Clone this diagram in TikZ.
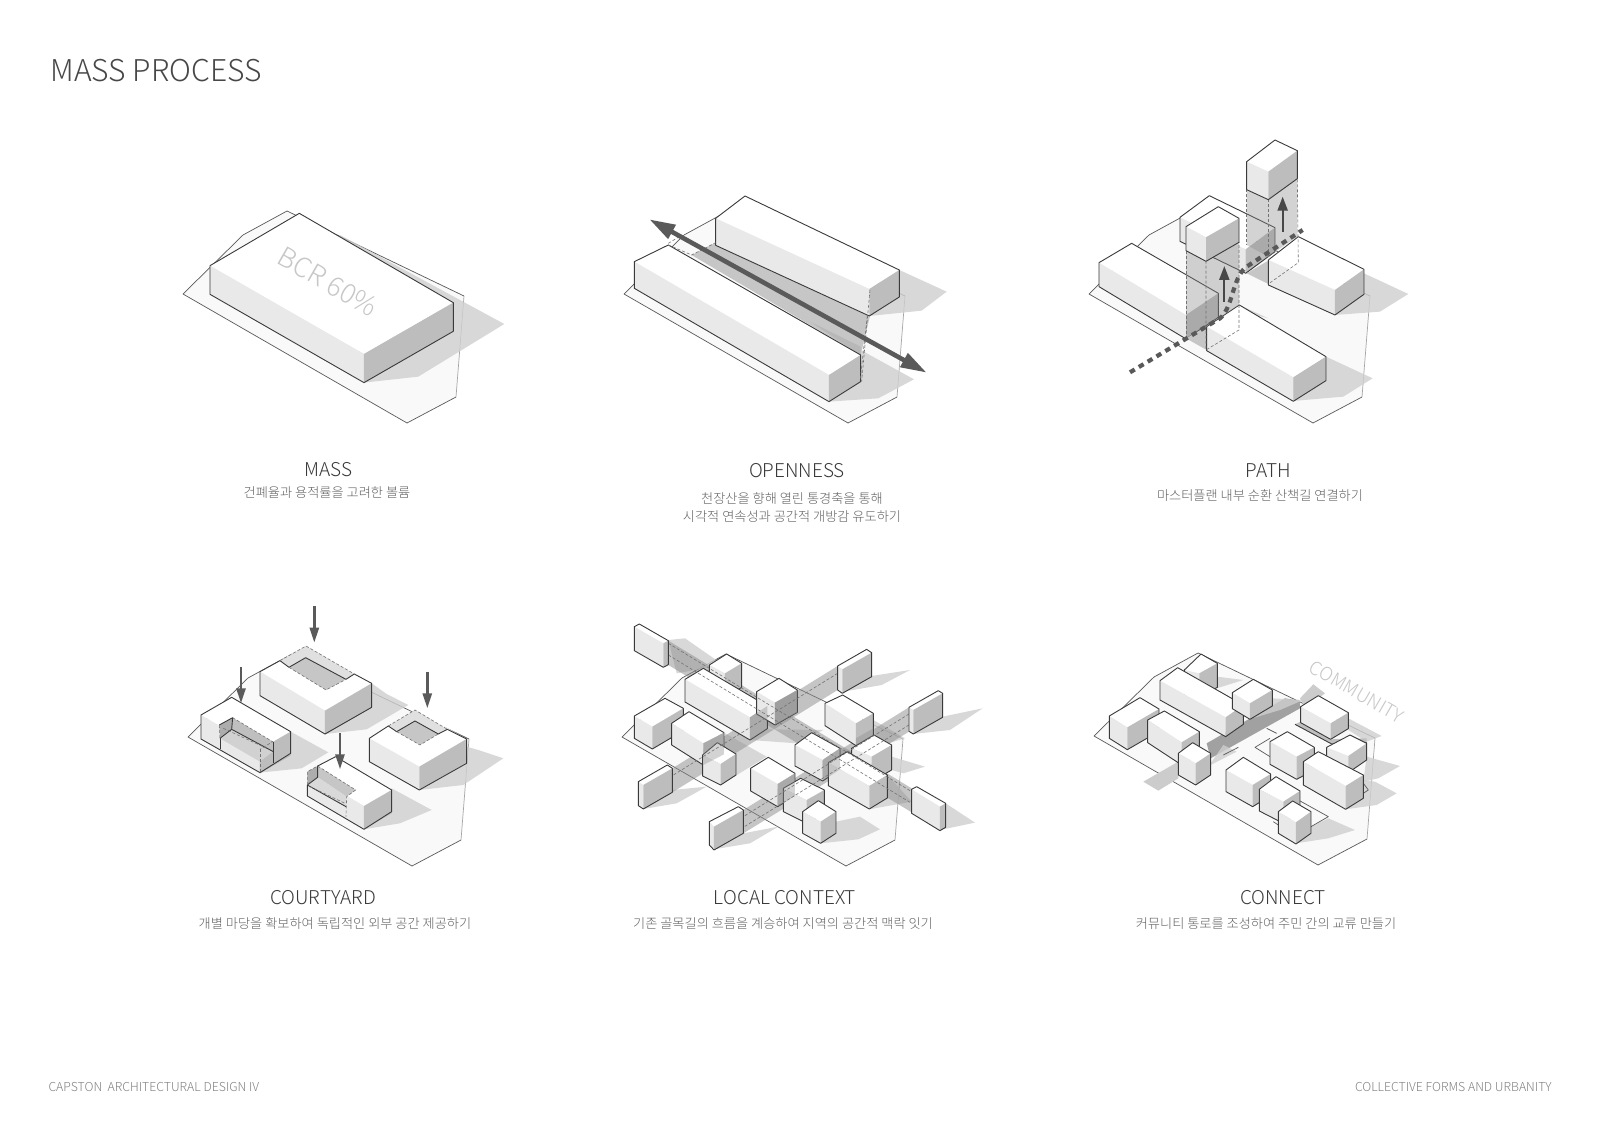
\documentclass[tikz,border=0pt]{standalone}
\usepackage{fontspec}
\setmainfont{Noto Sans CJK KR Light}
\usetikzlibrary{arrows.meta}
\usetikzlibrary{calc}

\definecolor{sitetone}{HTML}{F9F9F9}
\definecolor{leftface}{HTML}{E9E9E9}
\definecolor{rightface}{HTML}{BDBDBD}
\definecolor{shadetone}{HTML}{CFCFCF}
\definecolor{cuttone}{HTML}{C6C6C6}
\definecolor{linetone}{HTML}{3A3A3A}
\definecolor{arrowtone}{HTML}{5A5A5A}

\tikzset{
    zoomed/.style={x=0.3333pt,y=-0.3333pt},
    boxline/.style={draw=linetone,line width=0.9pt,line join=round},
    siteline/.style={draw=black!65,line width=0.7pt,line join=round},
    shade/.style={fill=shadetone,fill opacity=0.8},
    cutfill/.style={fill=black!45,fill opacity=0.38},
    laneband/.style={fill=black!45,fill opacity=0.5},
    cutline/.style={draw=black!55,line width=0.6pt,dashed,dash pattern=on 3pt off 2pt},
    pathline/.style={draw=black!65,line width=4.2pt,dash pattern=on 5.5pt off 4.8pt},
    heading/.style={text=black!78,font=\fontsize{19}{22}\selectfont},
    subhead/.style={text=black!62,font=\fontsize{13.2}{18.5}\selectfont},
    footer/.style={text=black!50,font=\fontsize{12.3}{15}\selectfont},
    upperword/.style={text=black!22,rotate=-30}
}

\newcommand{\massfaces}[5]{
    \fill[white] (#1) -- (#2) -- (#3) -- (#4) -- cycle;
    \fill[leftface] (#1) -- (#4) -- ($(#4)+(0,#5)$) -- ($(#1)+(0,#5)$) -- cycle;
    \fill[rightface] (#4) -- (#3) -- ($(#3)+(0,#5)$) -- ($(#4)+(0,#5)$) -- cycle;
}
\newcommand{\massbox}[5]{
    \massfaces{#1}{#2}{#3}{#4}{#5}
    \draw[boxline] ($(#1)+(0,#5)$) -- (#1) -- (#2) -- (#3) -- ($(#3)+(0,#5)$) -- ($(#4)+(0,#5)$) -- cycle;
}
\newcommand{\sitearea}[2]{
    \begin{scope}[shift={(#1,#2)}]
        \fill[sitetone] (183,294) -- (243,235) -- (287,211) -- (464,296) -- (456,397) -- (407,423) -- cycle;
        \draw[siteline] (456,397) -- (407,423) -- (183,294) -- (243,235) -- (287,211) -- (464,296);
        \draw[draw=black!35,line width=0.7pt] (464,296) -- (456,397);
    \end{scope}
}

\begin{document}
\begin{tikzpicture}[x=1pt,y=-1pt]
    \useasboundingbox (0,0) rectangle (1600,1131);
    \fill[white] (0,0) rectangle (1600,1131);

    \node (title) [anchor=west,text=black!72,font=\fontsize{30}{32}\selectfont] at (47,71) {MASS PROCESS};
    \node (leftfoot) [footer,anchor=west] at (45,1087) {CAPSTON\ \ ARCHITECTURAL DESIGN IV};
    \node (rightfoot) [footer,anchor=east] at (1555,1087) {COLLECTIVE FORMS AND URBANITY};

    % mass
    \sitearea{0}{0}
    \begin{scope}[shift={(160,180)},zoomed]
        \fill[shade] (612,608) -- (775,590) -- (1033,432) -- (540,165) -- cycle;
        \massbox{150,257}{418,100}{880,368}{612,522}{86}
        \node (bcr) [upperword,font=\fontsize{27}{30}\selectfont] at (505,305) {BCR 60\%};
    \end{scope}
    \node (masshead) [heading] at (328.5,470) {MASS};
    \node (masssub) [subhead] at (327,493) {건폐율과 용적률을 고려한 볼륨};

    % openness
    \sitearea{441}{0}
    \begin{scope}[shift={(610,190)},zoomed]
        \fill[shade] (778,378) -- (935,362) -- (1010,305) -- (868,240) -- cycle;
        \fill[shade] (657,635) -- (805,625) -- (912,568) -- (752,480) -- cycle;
        \fill[cuttone] (245,195) -- (317,158) -- (780,378) -- (752,495) -- cycle;
        \fill[black!28] (600,395) -- (752,470) -- (752,495) -- cycle;
        \massbox{317,85}{405,18}{868,240}{778,297}{81}
        \massbox{73,215}{175,165}{752,495}{657,555}{80}
        \draw[cutline] (175,165) -- (245,195) -- (317,158);
        \draw[cutline] (175,160) -- (208,140);
        \draw[cutline] (780,300) -- (755,575);
        \draw[cutline] (772,378) -- (750,575);
        \coordinate (viewfrom) at (118,88);
        \coordinate (viewto) at (950,548);
        \draw[draw=arrowtone,line width=4.6pt,{Triangle[length=26pt,width=15pt]}-{Triangle[length=26pt,width=15pt]}] (viewfrom) -- (viewto);
    \end{scope}
    \node (openhead) [heading] at (797,471) {OPENNESS};
    \node (opensub) [subhead,align=center] at (792,509) {\begin{tabular}{c}
         천장산을 향해 열린 통경축을 통해\\ 시각적 연속성과 공간적 개방감 유도하기
    \end{tabular}};

    % path
    \sitearea{906}{0}
    \begin{scope}[shift={(1080,130)},zoomed]
        \fill[shade] (765,555) -- (900,545) -- (985,492) -- (852,430) -- (765,480) -- cycle;
        \fill[shade] (640,813) -- (790,800) -- (878,745) -- (738,680) -- (640,742) -- cycle;
        \fill[shade] (478,525) -- (565,565) -- (525,555) -- (478,535) -- cycle;
        \massbox{300,262}{388,197}{585,293}{497,358}{72}
        \fill[cuttone] (500,430) -- (565,392) -- (565,462) -- cycle;
        \massbox{565,390}{655,320}{852,418}{765,480}{75}
        \massbox{57,398}{155,340}{415,490}{318,555}{72}
        \fill[cuttone] (318,625) -- (380,590) -- (380,660) -- cycle;
        \massbox{380,590}{478,525}{738,680}{640,742}{72}
        \fill[cutfill] (500,178) -- (565,208) -- (652,148) -- (652,320) -- (565,380) -- (500,345) -- cycle;
        \fill[cutfill] (318,362) -- (378,392) -- (477,335) -- (477,525) -- (380,590) -- (318,625) -- cycle;
        \draw[cutline] (500,178) -- (500,345);
        \draw[cutline] (565,208) -- (565,390);
        \draw[cutline] (652,148) -- (655,398) -- (565,462);
        \draw[cutline] (318,362) -- (318,625);
        \draw[cutline] (378,392) -- (378,660) -- (477,600) -- (477,335);
        \massbox{500,95}{585,30}{652,62}{565,125}{84}
        \massbox{318,290}{415,230}{477,265}{378,322}{72}
        \coordinate (walkstart) at (150,727);
        \coordinate (walkturn) at (420,565);
        \coordinate (walkmid) at (497,412);
        \coordinate (walkend) at (668,300);
        \draw[pathline] (walkstart) -- (walkturn) .. controls (460,530) and (455,450) .. (walkmid) -- (walkend);
        \coordinate (liftone) at (433,515);
        \coordinate (lifttop) at (433,408);
        \coordinate (lifttwo) at (608,305);
        \coordinate (lifthigh) at (608,200);
        \draw[draw=black!72,line width=2.2pt,-{Triangle[length=14pt,width=10pt]}] (liftone) -- (lifttop);
        \draw[draw=black!72,line width=2.2pt,-{Triangle[length=14pt,width=10pt]}] (lifttwo) -- (lifthigh);
    \end{scope}
    \node (pathhead) [heading] at (1268.5,471) {PATH};
    \node (pathsub) [subhead] at (1260,496) {마스터플랜 내부 순환 산책길 연결하기};

    % courtyard
    \sitearea{5}{443}
    \begin{scope}[shift={(170,590)},zoomed]
        \fill[shade] (362,425) -- (475,487) -- (395,535) -- (270,548) -- cycle;
        \fill[shade] (465,432) -- (590,418) -- (715,345) -- (650,312) -- (605,280) -- cycle;
        \fill[shade] (748,600) -- (880,585) -- (1000,505) -- (925,480) -- (890,470) -- cycle;
        \fill[shade] (582,718) -- (690,700) -- (785,660) -- (665,595) -- cycle;
        \massfaces{270,245}{408,168}{605,280}{465,362}{72}
        \fill[black!12] (330,212) -- (408,168) -- (553,252) -- (528,268) -- (407,203) -- (357,232) -- cycle;
        \fill[cuttone] (357,232) -- (407,203) -- (528,268) -- (468,300) -- cycle;
        \draw[boxline] (270,317) -- (270,245) -- (330,212) -- (357,232) -- (407,203) -- (528,268) -- (553,252) -- (605,280) -- (605,352) -- (465,432) -- cycle;
        \draw[cutline] (330,212) -- (408,168) -- (553,252);
        \draw[cutline] (357,232) -- (468,300) -- (528,268);
        \massfaces{93,375}{185,322}{362,425}{270,478}{72}
        \fill[black!32] (148,405) -- (188,383) -- (185,418) -- (150,445) -- cycle;
        \fill[black!25] (188,383) -- (308,455) -- (310,485) -- (185,418) -- cycle;
        \fill[black!18] (150,445) -- (185,418) -- (310,485) -- (270,515) -- cycle;
        \fill[rightface] (270,515) -- (310,485) -- (310,518) -- (270,548) -- cycle;
        \draw[boxline] (93,447) -- (93,375) -- (185,322) -- (362,425) -- (362,490) -- (270,548) -- cycle;
        \draw[boxline] (148,405) -- (188,383) -- (185,418) -- (310,485);
        \draw[boxline] (150,445) -- (150,478);
        \draw[boxline] (150,445) -- (185,418);
        \draw[boxline] (310,455) -- (310,518);
        \draw[cutline] (148,405) -- (150,445);
        \draw[cutline] (188,383) -- (308,455) -- (270,478);
        \draw[cutline] (160,415) -- (290,475);
        \draw[cutline] (270,478) -- (270,545);
        \massfaces{598,445}{735,360}{890,447}{748,530}{70}
        \fill[black!12] (655,408) -- (735,360) -- (832,418) -- (805,432) -- (735,393) -- (680,425) -- cycle;
        \fill[cuttone] (680,425) -- (735,393) -- (805,432) -- (750,465) -- cycle;
        \draw[boxline] (598,515) -- (598,445) -- (655,408) -- (680,425) -- (735,393) -- (805,432) -- (832,418) -- (890,447) -- (890,520) -- (748,600) -- cycle;
        \draw[cutline] (655,408) -- (735,360) -- (832,418);
        \draw[cutline] (680,425) -- (750,465) -- (805,432);
        \massfaces{412,548}{497,500}{665,600}{582,648}{70}
        \fill[black!32] (412,545) -- (443,528) -- (443,562) -- (412,585) -- cycle;
        \fill[cuttone] (443,528) -- (557,600) -- (530,620) -- (443,562) -- cycle;
        \fill[black!15] (412,585) -- (443,562) -- (530,620) -- (528,650) -- cycle;
        \draw[boxline] (412,618) -- (412,585) -- (528,650);
        \draw[boxline] (412,585) -- (443,562) -- (443,528) -- (497,500) -- (665,600) -- (665,665) -- (582,718) -- (412,618);
        \draw[cutline] (412,585) -- (412,545) -- (443,528) -- (557,600) -- (530,620) -- (528,680);
        \draw[cutline] (420,590) -- (525,640);
        \coordinate (dropa) at (433,48);
        \coordinate (dropb) at (433,158);
        \coordinate (dropc) at (213,232);
        \coordinate (dropd) at (213,340);
        \coordinate (drope) at (772,245);
        \coordinate (dropf) at (772,355);
        \coordinate (dropg) at (510,430);
        \coordinate (droph) at (510,538);
        \foreach \dropfrom/\dropto in {dropa/dropb,dropc/dropd,drope/dropf,dropg/droph}
            \draw[draw=arrowtone,line width=2.6pt,-{Triangle[length=15pt,width=9pt]}] (\dropfrom) -- (\dropto);
    \end{scope}
    \node (courthead) [heading] at (323,898) {COURTYARD};
    \node (courtsub) [subhead] at (335,924) {개별 마당을 확보하여 독립적인 외부 공간 제공하기};

    % local context
    \sitearea{439}{443}
    \begin{scope}[shift={(610,610)},zoomed]
        \fill[shade] (175,90) -- (225,85) -- (340,165) -- (200,190) -- cycle;
        \fill[shade] (785,198) -- (900,180) -- (815,225) -- (700,245) -- cycle;
        \fill[shade] (998,320) -- (1118,295) -- (1020,360) -- (910,372) -- cycle;
        \fill[shade] (187,540) -- (290,530) -- (200,580) -- (100,597) -- cycle;
        \fill[shade] (400,670) -- (505,650) -- (420,700) -- (312,718) -- cycle;
        \fill[shade] (1007,580) -- (1095,638) -- (990,660) -- cycle;
        \fill[shade] (632,700) -- (745,688) -- (810,658) -- (750,620) -- (678,635) -- cycle;
        \fill[shade] (778,598) -- (905,575) -- (832,495) -- cycle;
        \fill[shade] (845,440) -- (945,470) -- (880,490) -- (845,480) -- cycle;
        \fill[shade] (790,330) -- (885,385) -- (800,410) -- cycle;
        \fill[shade] (332,525) -- (470,440) -- (345,370) -- cycle;
        \fill[shade] (472,358) -- (640,360) -- (560,400) -- (420,390) -- cycle;
        \fill[laneband] (175,92) -- (905,535) -- (905,607) -- (175,165) -- cycle;
        \fill[laneband] (683,168) -- (187,475) -- (187,547) -- (683,240) -- cycle;
        \fill[laneband] (897,292) -- (400,600) -- (400,670) -- (897,365) -- cycle;
        \massbox{298,165}{350,132}{395,160}{345,190}{72}
        \massbox{225,208}{280,175}{472,288}{420,322}{68}
        \massbox{440,245}{507,205}{562,240}{495,278}{67}
        \massbox{73,318}{165,265}{220,295}{127,350}{67}
        \massbox{185,340}{237,305}{342,368}{280,400}{65}
        \massbox{645,280}{698,255}{790,310}{738,340}{67}
        \massbox{555,405}{605,368}{690,415}{638,450}{63}
        \massbox{725,415}{792,375}{845,405}{785,440}{75}
        \massbox{278,435}{322,398}{378,432}{332,462}{63}
        \massbox{655,458}{712,425}{832,495}{778,528}{69}
        \massbox{422,475}{475,442}{555,490}{503,522}{68}
        \massbox{520,535}{572,505}{643,540}{590,570}{70}
        \massbox{578,605}{625,572}{678,605}{632,635}{65}
        \fill[cutfill] (420,322) -- (472,288) -- (472,356) -- (420,390) -- cycle;
        \fill[cutfill] (495,278) -- (562,240) -- (562,307) -- (495,345) -- cycle;
        \fill[cutfill] (495,278) -- (562,240) -- (562,307) -- (495,345) -- cycle;
        \fill[cutfill] (280,400) -- (342,368) -- (342,433) -- (280,465) -- cycle;
        \fill[cutfill] (503,522) -- (555,490) -- (555,558) -- (503,590) -- cycle;
        \fill[cutfill] (638,450) -- (690,415) -- (690,478) -- (638,513) -- cycle;
        \fill[cutfill] (738,385) -- (790,355) -- (790,377) -- (738,407) -- cycle;
        \draw[cutline] (175,100) -- (905,545);
        \draw[cutline] (175,135) -- (905,580);
        \draw[cutline] (683,190) -- (187,497);
        \draw[cutline] (897,312) -- (400,620);
        \draw[cutline] (897,345) -- (400,652);
        \massbox{73,50}{88,42}{175,92}{160,100}{72}
        \massbox{683,168}{770,118}{785,128}{697,178}{72}
        \massbox{897,292}{985,242}{998,250}{910,300}{72}
        \massbox{85,515}{172,465}{187,475}{100,525}{72}
        \massbox{298,635}{385,590}{400,600}{312,650}{70}
        \massbox{905,538}{920,530}{1007,580}{990,590}{72}
    \end{scope}
    \node (localhead) [heading] at (785,898) {LOCAL CONTEXT};
    \node (localsub) [subhead] at (783,924) {기존 골목길의 흐름을 계승하여 지역의 공간적 맥락 잇기};

    % connect
    \sitearea{911}{442}
    \begin{scope}[shift={(1080,630)},zoomed]
        \fill[black!20] (190,455) -- (295,395) -- (295,445) -- (235,482) -- cycle;
        \fill[black!20] (660,205) -- (700,163) -- (735,190) -- (675,235) -- cycle;
        \fill[black!37] (380,340) -- (615,205) -- (660,212) -- (660,235) -- (392,385) -- cycle;
        \fill[shade] (648,640) -- (745,625) -- (825,600) -- (745,565) -- (693,590) -- cycle;
        \fill[shade] (797,538) -- (890,525) -- (950,490) -- (885,455) -- (850,450) -- cycle;
        \fill[shade] (860,380) -- (960,408) -- (895,445) -- (850,455) -- cycle;
        \fill[shade] (805,265) -- (905,318) -- (860,335) -- (805,300) -- cycle;
        \fill[shade] (577,205) -- (670,210) -- (600,240) -- (510,267) -- cycle;
        \fill[shade] (412,140) -- (490,150) -- (410,175) -- cycle;
        \fill[shade] (392,405) -- (470,365) -- (430,345) -- (347,465) -- cycle;
        \draw[siteline] (145,340) -- (200,312);
        \draw[siteline] (570,325) -- (525,352) -- (570,380);
        \draw[siteline] (430,375) -- (475,352);
        \draw[siteline] (560,295) -- (590,310);
        \draw[siteline] (580,575) -- (595,585);
        \draw[siteline] (693,590) -- (745,560) -- (655,510);
        \draw[siteline] (850,460) -- (865,480) -- (850,490);
        \fill[black!25] (645,283) -- (662,275) -- (752,328) -- (860,325) -- (860,338) -- (755,342) -- cycle;
        \draw[boxline] (645,283) -- (755,342) -- (860,338);
        \massbox{313,120}{363,72}{412,100}{358,130}{72}
        \massbox{240,152}{293,113}{490,225}{437,262}{58}
        \massbox{457,188}{520,148}{577,180}{510,220}{48}
        \massbox{88,258}{180,203}{237,237}{142,292}{67}
        \massbox{203,270}{253,243}{358,305}{305,337}{68}
        \massbox{295,370}{338,338}{392,370}{347,400}{65}
        \massbox{662,230}{715,197}{805,248}{752,280}{48}
        \massbox{740,352}{810,315}{860,340}{805,378}{50}
        \massbox{570,335}{622,305}{703,352}{650,380}{68}
        \massbox{670,395}{715,365}{850,435}{797,468}{70}
        \massbox{438,420}{490,382}{572,432}{518,465}{65}
        \massbox{538,478}{588,440}{660,483}{610,515}{65}
        \massbox{595,545}{638,513}{693,545}{648,577}{65}
        \node (community) [upperword,font=\fontsize{18.5}{21}\selectfont] at (830,185) {COMMUNITY};
    \end{scope}
    \node (connecthead) [heading] at (1283,898) {CONNECT};
    \node (connectsub) [subhead] at (1266,924) {커뮤니티 통로를 조성하여 주민 간의 교류 만들기};
\end{tikzpicture}
\end{document}
